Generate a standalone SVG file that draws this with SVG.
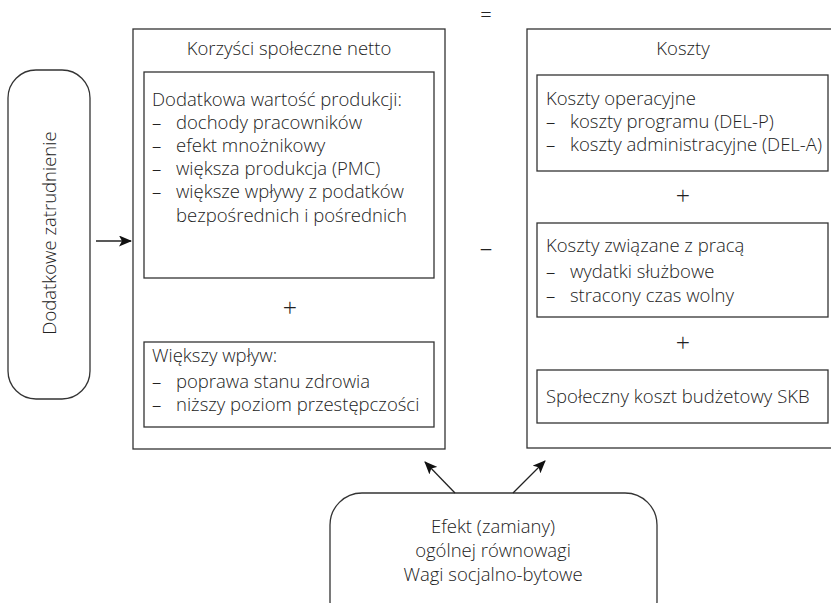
<svg xmlns="http://www.w3.org/2000/svg" width="831" height="603" viewBox="0 0 831 603">
<style>
text{font-family:"Open Sans","Noto Sans","DejaVu Sans",sans-serif;font-size:18.5px;font-weight:300;fill:#222}
.b{fill:#fff;stroke:#333;stroke-width:1.3}
.c{text-anchor:middle}
.s{font-size:25px}
.e{font-size:20px}
.l{stroke:#222;stroke-width:1.3;fill:none}
</style>
<defs>
<marker id="ah" markerWidth="13" markerHeight="11" refX="12" refY="5.5" orient="auto" markerUnits="userSpaceOnUse">
<path d="M0,0 L13,5.5 L0,11 L3,5.5 Z" fill="#111"/>
</marker>
</defs>
<rect width="831" height="603" fill="#fff"/>
<g id="zatrudnienie">
<rect class="b" x="8" y="70" width="82" height="329" rx="28" ry="28"/>
<text class="c" transform="translate(56,233) rotate(-90)">Dodatkowe zatrudnienie</text>
</g>
<g id="korzysci">
<rect class="b" x="133" y="29" width="312" height="420"/>
<text class="c" x="289" y="55">Korzyści społeczne netto</text>
</g>
<g id="wartosc">
<rect class="b" x="144" y="72" width="290" height="206"/>
<text x="152" y="106">Dodatkowa wartość produkcji:</text>
<text x="152" y="129">–</text><text x="176" y="129">dochody pracowników</text>
<text x="152" y="152">–</text><text x="176" y="152">efekt mnożnikowy</text>
<text x="152" y="175">–</text><text x="176" y="175">większa produkcja (PMC)</text>
<text x="152" y="198">–</text><text x="176" y="198">większe wpływy z podatków</text>
<text x="176" y="222">bezpośrednich i pośrednich</text>
</g>
<g id="plus1"><text class="c s" x="290" y="317">+</text></g>
<g id="wplyw">
<rect class="b" x="144" y="342" width="290" height="85"/>
<text x="152" y="362">Większy wpływ:</text>
<text x="152" y="388">–</text><text x="176" y="388">poprawa stanu zdrowia</text>
<text x="152" y="411">–</text><text x="176" y="411">niższy poziom przestępczości</text>
</g>
<g id="rownosc"><text class="c e" x="486" y="22">=</text></g>
<g id="minus"><text class="c s" x="486" y="257">–</text></g>
<g id="koszty">
<rect class="b" x="527" y="29" width="320" height="419"/>
<text class="c" x="683" y="55">Koszty</text>
</g>
<g id="operacyjne">
<rect class="b" x="537" y="75" width="291" height="96"/>
<text x="546" y="105">Koszty operacyjne</text>
<text x="546" y="128">–</text><text x="570" y="128">koszty programu (DEL-P)</text>
<text x="546" y="151">–</text><text x="570" y="151">koszty administracyjne (DEL-A)</text>
</g>
<g id="plus2"><text class="c s" x="683" y="205">+</text></g>
<g id="praca">
<rect class="b" x="537" y="223" width="291" height="94"/>
<text x="546" y="252">Koszty związane z pracą</text>
<text x="546" y="278">–</text><text x="570" y="278">wydatki służbowe</text>
<text x="546" y="302">–</text><text x="570" y="302">stracony czas wolny</text>
</g>
<g id="plus3"><text class="c s" x="683" y="352">+</text></g>
<g id="skb">
<rect class="b" x="537" y="370" width="291" height="53"/>
<text x="546" y="403">Społeczny koszt budżetowy SKB</text>
</g>
<g id="efekt">
<rect class="b" x="330" y="493" width="327" height="140" rx="32" ry="32"/>
<text class="c" x="493" y="533">Efekt (zamiany)</text>
<text class="c" x="493" y="557">ogólnej równowagi</text>
<text class="c" x="493" y="581">Wagi socjalno-bytowe</text>
</g>
<g id="connectors">
<line class="l" x1="455" y1="493" x2="425" y2="462" marker-end="url(#ah)"/>
<line class="l" x1="513" y1="493" x2="545" y2="461" marker-end="url(#ah)"/>
<line class="l" x1="96" y1="241" x2="131" y2="241" marker-end="url(#ah)"/>
</g>
</svg>
